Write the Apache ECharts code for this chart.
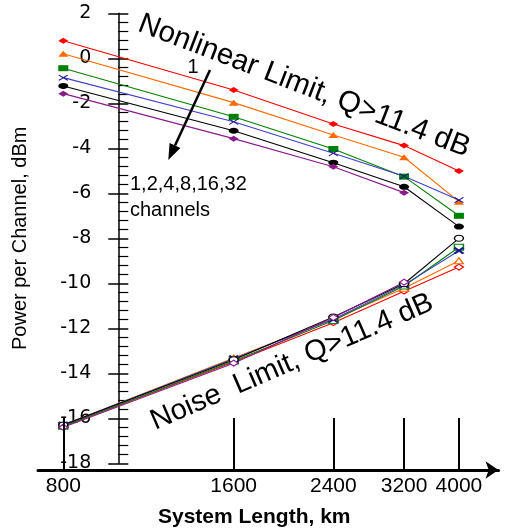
<!DOCTYPE html>
<html><head><meta charset="utf-8">
<script src="https://cdn.jsdelivr.net/npm/echarts@6/dist/echarts.min.js"></script>
<style>html,body{margin:0;padding:0;background:#fff}#c{width:505px;height:531px}</style>
</head><body><div id="c"></div>
<script>
// ---- data ----
const lengthsKm = [800, 1600, 2400, 3200, 4000];
const xTickLabels = ['800', '1600', '2400', '3200', '4000'];
const channelNames = ['1', '2', '4', '8', '16', '32'];
// Nonlinear limit (filled markers)
const nl_ch1  = [0.78, -1.41, -2.92, -3.88, -5.01];
const nl_ch2  = [0.20, -1.97, -3.41, -4.40, -6.37];
const nl_ch4  = [-0.44, -2.60, -4.03, -5.26, -7.00];
const nl_ch8  = [-0.86, -2.82, -4.22, -5.24, -6.30];
const nl_ch16 = [-1.23, -3.22, -4.64, -5.71, -7.48];
const nl_ch32 = [-1.57, -3.57, -4.82, -5.97];
// Noise limit (hollow markers)
const nz_ch1  = [-16.35, -13.50, -11.75, -10.35, -9.28];
const nz_ch2  = [-16.30, -13.32, -11.60, -10.22, -9.00];
const nz_ch4  = [-16.35, -13.45, -11.65, -10.12, -8.40];
const nz_ch8  = [-16.30, -13.35, -11.60, -10.07, -8.55];
const nz_ch16 = [-16.30, -13.40, -11.50, -10.02, -8.00];
const nz_ch32 = [-16.40, -13.55, -11.52, -9.95];

// ---- styles ----
const FONT = 'Liberation Sans, Arial, sans-serif';
const XSYM = 'path://M0,1L1,0L5,4L9,0L10,1L6,5L10,9L9,10L5,6L1,10L0,9L4,5Z';
const styles = [
  {line: '#ff0000', mark: '#ff0000', sym: 'diamond'},
  {line: '#ff6a00', mark: '#ff6a00', sym: 'triangle'},
  {line: '#008000', mark: '#008000', sym: 'rect'},
  {line: '#4040c8', mark: '#1a1a90', sym: XSYM},
  {line: '#000000', mark: '#000000', sym: 'circle'},
  {line: '#8b1a8b', mark: '#8b1a8b', sym: 'diamond'}
];
const nlSets = [nl_ch1, nl_ch2, nl_ch4, nl_ch8, nl_ch16, nl_ch32];
const nzSets = [nz_ch1, nz_ch2, nz_ch4, nz_ch8, nz_ch16, nz_ch32];
const pts = arr => arr.map((v, i) => [lengthsKm[i], v]);

const series = [];
// vertical tick lines + x labels (in the thin lower grid)
series.push({
  type: 'line', data: [], silent: true, xAxisIndex: 1, yAxisIndex: 2,
  markLine: {
    silent: true, symbol: ['none', 'none'], animation: false,
    lineStyle: {color: '#000', width: 2, type: 'solid'},
    label: {show: true, position: 'start', distance: 6, color: '#000',
            fontSize: 21, fontFamily: FONT, formatter: p => p.name},
    data: lengthsKm.map((x, i) => [
      {coord: [x, 0], name: xTickLabels[i]},
      {coord: [x, 1]}
    ])
  }
});
nlSets.forEach((arr, k) => {
  const s = styles[k];
  series.push({
    type: 'line', name: 'NL ' + channelNames[k], data: pts(arr),
    symbol: s.sym, symbolSize: [10, 6], showSymbol: true,
    lineStyle: {color: s.line, width: 1.1},
    itemStyle: {color: s.mark, borderWidth: 0},
    animation: false, z: 3
  });
});
nzSets.forEach((arr, k) => {
  const s = styles[k];
  series.push({
    type: 'line', name: 'NZ ' + channelNames[k], data: pts(arr),
    symbol: s.sym, symbolSize: [9, 6], showSymbol: true,
    lineStyle: {color: s.line, width: 1.1},
    itemStyle: {color: k === 3 ? s.mark : '#fff', borderColor: s.mark, borderWidth: 1.2},
    animation: false, z: 3
  });
});

const yCommon = {
  type: 'value', min: -18, max: 2, interval: 2, position: 'left', offset: -80.3,
  splitLine: {show: false}, gridIndex: 0
};
const X_MIN = 721.8, X_MAX = 4698.6;

const chart = echarts.init(document.getElementById('c'), null, {renderer: 'canvas'});
chart.setOption({
  animation: false,
  backgroundColor: '#fff',
  grid: [
    {left: 38, top: 13.3, height: 450, right: 6.5, containLabel: false},
    {left: 38, top: 418, height: 52, right: 6.5, containLabel: false}
  ],
  xAxis: [
    {type: 'log', gridIndex: 0, min: X_MIN, max: X_MAX, show: false},
    {
      type: 'log', gridIndex: 1, min: X_MIN, max: X_MAX, position: 'bottom',
      axisLine: {show: true, onZero: false, lineStyle: {color: '#000', width: 3},
                 symbol: ['none', 'arrow'], symbolSize: [13, 13]},
      axisTick: {show: false}, axisLabel: {show: false}, splitLine: {show: false},
      minorTick: {show: false}, minorSplitLine: {show: false},
      name: 'System Length, km', nameLocation: 'middle', nameGap: 37,
      nameTextStyle: {fontSize: 21, fontWeight: 'bold', fontFamily: FONT, color: '#000',
                      padding: [0, 28, 0, 0]}
    }
  ],
  yAxis: [
    Object.assign({}, yCommon, {
      axisLine: {show: true, onZero: false, lineStyle: {color: '#000', width: 1.5}},
      axisTick: {show: true, inside: false, length: 10, lineStyle: {color: '#000', width: 1.5}},
      axisLabel: {show: true, margin: 27, fontSize: 19, fontFamily: 'DejaVu Sans, sans-serif', color: '#000'},
      name: 'Power per Channel, dBm', nameLocation: 'middle', nameRotate: 90, nameGap: 88,
      nameTextStyle: {fontSize: 20, fontFamily: FONT, color: '#000'}
    }),
    Object.assign({}, yCommon, {
      axisLine: {show: false, onZero: false},
      axisTick: {show: true, inside: true, length: 10, lineStyle: {color: '#000', width: 1.5}},
      minorTick: {show: true, splitNumber: 5, length: 10, lineStyle: {color: '#000', width: 1.2}},
      axisLabel: {show: false}
    }),
    {type: 'value', gridIndex: 1, min: 0, max: 1, show: false}
  ],
  series: series,
  graphic: [
    {type: 'text', x: 304, y: 86, rotation: -21 * Math.PI / 180, z: 10,
     style: {text: 'Nonlinear Limit, Q>11.4 dB', fontSize: 29.5, fontFamily: FONT, fill: '#000',
             align: 'center', verticalAlign: 'middle'}},
    {type: 'text', x: 292, y: 362, rotation: 23.4 * Math.PI / 180, z: 10,
     style: {text: 'Noise  Limit, Q>11.4 dB', fontSize: 29, fontFamily: FONT, fill: '#000',
             align: 'center', verticalAlign: 'middle'}},
    {type: 'text', x: 193, y: 67, z: 10,
     style: {text: '1', fontSize: 20, fontFamily: FONT, fill: '#000', align: 'center', verticalAlign: 'middle'}},
    {type: 'line', z: 10, shape: {x1: 210, y1: 70, x2: 175, y2: 145.5},
     style: {stroke: '#000', lineWidth: 2.5}},
    {type: 'polygon', z: 10, shape: {points: [[168.3, 160], [180.4, 148], [169.6, 143]]},
     style: {fill: '#000'}},
    {type: 'text', x: 130, y: 184, z: 10,
     style: {text: '1,2,4,8,16,32', fontSize: 20, fontFamily: FONT, fill: '#000', align: 'left', verticalAlign: 'middle'}},
    {type: 'text', x: 130, y: 210, z: 10,
     style: {text: 'channels', fontSize: 20, fontFamily: FONT, fill: '#000', align: 'left', verticalAlign: 'middle'}}
  ]
});
</script>
</body></html>
